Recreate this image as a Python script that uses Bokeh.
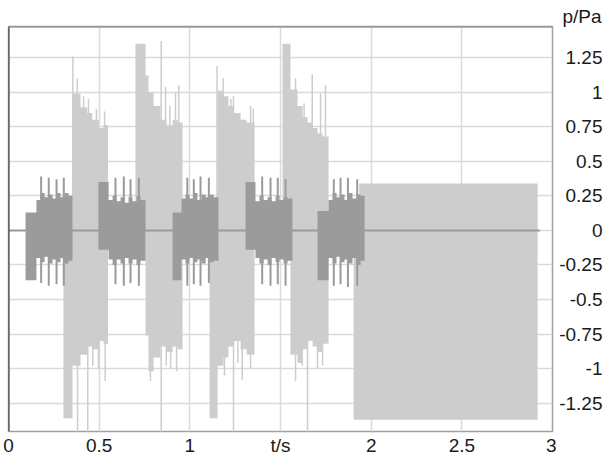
from bokeh.plotting import figure
from bokeh.models import Range1d, FixedTicker, Span, Title, ColumnDataSource
from bokeh.layouts import row
from bokeh.embed import file_html
from bokeh.resources import INLINE

# ---------------- data ----------------
x_ticks = [0, 0.5, 1, 1.5, 2, 2.5, 3]
x_tick_labels = ["0", "0.5", "1", "t/s", "2", "2.5", "3"]
y_ticks = [-1.25, -1.0, -0.75, -0.5, -0.25, 0.0, 0.25, 0.5, 0.75, 1.0, 1.25]
y_tick_labels = ["-1.25", "-1", "-0.75", "-0.5", "-0.25", "0", "0.25", "0.5", "0.75", "1", "1.25"]
y_unit = "p/Pa"

# light grey signal: step envelope (t = start of step, upper, lower)
light_t = [0.303, 0.353, 0.397, 0.434, 0.462, 0.498, 0.524, 0.549,
           0.700, 0.756, 0.772, 0.800, 0.838, 0.871, 0.905, 0.932, 0.960,
           1.109, 1.153, 1.186, 1.213, 1.241, 1.280, 1.313, 1.357,
           1.511, 1.555, 1.594, 1.622, 1.649, 1.677, 1.704, 1.732, 1.765,
           1.903, 1.934, 2.918]
light_up = [0.00, 0.99, 0.89, 0.85, 0.80, 0.74, 0.76, 0.0,
            1.35, 1.12, 1.00, 0.90, 0.80, 0.76, 0.80, 0.78, 0.0,
            0.00, 1.01, 0.97, 0.90, 0.85, 0.80, 0.78, 0.0,
            1.35, 1.02, 0.90, 0.82, 0.78, 0.74, 0.70, 0.68, 0.0,
            0.00, 0.34, 0.0]
light_lo = [-1.36, -0.98, -0.90, -0.84, -0.86, -0.80, -0.82, 0.0,
            0.00, -0.76, -1.02, -0.92, -0.84, -0.88, -0.84, -0.86, 0.0,
            -1.36, -0.98, -0.92, -0.84, -0.80, -0.86, -0.90, 0.0,
            0.00, -0.90, -0.96, -0.86, -0.80, -0.84, -0.88, -0.82, 0.0,
            -1.37, -1.37, 0.0]

# thin spikes of the light signal
light_spike_up_t = [0.355, 0.379, 0.414, 0.441, 0.485, 0.530,
                    0.842, 0.866, 0.890, 0.921, 0.939,
                    1.150, 1.184, 1.226, 1.241, 1.335, 1.350,
                    1.583, 1.630, 1.675, 1.721, 1.748]
light_spike_up_v = [1.26, 1.10, 0.97, 0.95, 0.88, 0.86,
                    1.37, 1.04, 0.90, 1.00, 1.05,
                    1.19, 1.10, 0.95, 0.97, 0.90, 0.88,
                    1.10, 0.92, 1.13, 0.99, 1.05]
light_spike_dn_t = [0.381, 0.437, 0.465, 0.496, 0.533,
                    0.783, 0.842, 0.870, 0.894, 0.927,
                    1.191, 1.241, 1.265, 1.289, 1.335,
                    1.583, 1.620, 1.649, 1.704, 1.732]
light_spike_dn_v = [-1.46, -1.46, -0.98, -1.00, -1.09,
                    -1.09, -1.46, -0.98, -1.00, -1.02,
                    -1.05, -1.46, -0.96, -1.08, -1.00,
                    -1.09, -0.98, -1.46, -1.00, -0.98]

# dark grey signal: step envelope
dark_t = [0.094, 0.154, 0.177, 0.199, 0.221, 0.243, 0.265, 0.287, 0.309, 0.331, 0.353,
          0.496, 0.552, 0.574, 0.596, 0.618, 0.640, 0.662, 0.684, 0.706, 0.728, 0.756,
          0.905, 0.954, 0.976, 0.998, 1.020, 1.042, 1.065, 1.087, 1.109, 1.131, 1.158,
          1.307, 1.362, 1.384, 1.407, 1.429, 1.451, 1.473, 1.495, 1.517, 1.539, 1.566,
          1.704, 1.765, 1.787, 1.809, 1.831, 1.853, 1.875, 1.897, 1.919, 1.942, 1.964]
dark_up = [0.13, 0.22, 0.27, 0.24, 0.26, 0.23, 0.27, 0.24, 0.27, 0.25, 0.0,
           0.35, 0.22, 0.25, 0.21, 0.24, 0.20, 0.24, 0.21, 0.25, 0.22, 0.0,
           0.13, 0.23, 0.26, 0.23, 0.27, 0.22, 0.26, 0.24, 0.26, 0.24, 0.0,
           0.35, 0.21, 0.25, 0.22, 0.24, 0.21, 0.25, 0.22, 0.24, 0.23, 0.0,
           0.14, 0.22, 0.27, 0.24, 0.26, 0.22, 0.27, 0.23, 0.26, 0.25, 0.0]
dark_lo = [-0.36, -0.20, -0.23, -0.19, -0.24, -0.21, -0.23, -0.20, -0.24, -0.22, 0.0,
           -0.14, -0.21, -0.25, -0.21, -0.24, -0.20, -0.24, -0.21, -0.25, -0.22, 0.0,
           -0.36, -0.21, -0.24, -0.20, -0.23, -0.21, -0.24, -0.20, -0.23, -0.22, 0.0,
           -0.14, -0.20, -0.24, -0.21, -0.25, -0.20, -0.23, -0.21, -0.24, -0.22, 0.0,
           -0.36, -0.20, -0.24, -0.19, -0.23, -0.21, -0.24, -0.20, -0.25, -0.22, 0.0]

# spikes of the dark signal
dark_spike_t = [0.180, 0.222, 0.265, 0.305,
                0.590, 0.636, 0.673, 0.719,
                0.986, 1.022, 1.059, 1.105,
                1.399, 1.445, 1.485, 1.528,
                1.794, 1.831, 1.872, 1.923]
dark_spike_up = [0.39, 0.38, 0.37, 0.38,
                 0.38, 0.39, 0.37, 0.38,
                 0.38, 0.37, 0.39, 0.38,
                 0.39, 0.38, 0.38, 0.37,
                 0.37, 0.38, 0.38, 0.37]
dark_spike_dn = [-0.38, -0.40, -0.39, -0.40,
                 -0.39, -0.40, -0.38, -0.40,
                 -0.40, -0.39, -0.40, -0.38,
                 -0.39, -0.40, -0.39, -0.40,
                 -0.40, -0.39, -0.41, -0.40]

baseline_t = [0.0, 2.93]
baseline_v = [0.0, 0.0]

# ---------------- styling ----------------
LIGHT = "#cdcdcd"
DARK = "#9b9b9b"
GRID = "#dadada"
FONT = "Liberation Sans"
TXT = "#1a1a1a"
FS = "19px"

y_range = Range1d(-1.455, 1.475)

p = figure(width=556, height=458, output_backend="svg", toolbar_location=None,
           x_range=Range1d(0, 3), y_range=y_range, y_axis_location=None,
           min_border_left=8, min_border_right=4, min_border_top=26, min_border_bottom=25)
p.background_fill_color = "white"
p.border_fill_color = "white"
p.outline_line_color = "#a0a0a0"
p.outline_line_width = 1.5

p.xgrid.ticker = FixedTicker(ticks=x_ticks)
p.ygrid.ticker = FixedTicker(ticks=y_ticks)
p.grid.grid_line_color = GRID
p.grid.grid_line_width = 1.5

def style_axis(ax):
    ax.axis_line_color = None
    ax.major_tick_line_color = None
    ax.minor_tick_line_color = None
    ax.major_tick_out = 0
    ax.major_tick_in = 0
    ax.minor_tick_out = 0
    ax.minor_tick_in = 0
    ax.major_label_text_font = FONT
    ax.major_label_text_font_size = FS
    ax.major_label_text_color = TXT

xa = p.xaxis[0]
xa.ticker = FixedTicker(ticks=x_ticks)
xa.major_label_overrides = {float(k): v for k, v in zip(x_ticks, x_tick_labels)}
style_axis(xa)
xa.major_label_text_line_height = 1.0
xa.major_label_standoff = 3

light_src = ColumnDataSource(dict(t=light_t, up=light_up, lo=light_lo))
dark_src = ColumnDataSource(dict(t=dark_t, up=dark_up, lo=dark_lo))

p.varea_step(x="t", y1="lo", y2="up", step_mode="after", source=light_src, fill_color=LIGHT)
p.segment(x0=light_spike_up_t, y0=[0.0] * len(light_spike_up_t), x1=light_spike_up_t, y1=light_spike_up_v,
          line_color=LIGHT, line_width=1.5)
p.segment(x0=light_spike_dn_t, y0=[0.0] * len(light_spike_dn_t), x1=light_spike_dn_t, y1=light_spike_dn_v,
          line_color=LIGHT, line_width=1.5)
p.varea_step(x="t", y1="lo", y2="up", step_mode="after", source=dark_src, fill_color=DARK)
p.segment(x0=dark_spike_t, y0=dark_spike_dn, x1=dark_spike_t, y1=dark_spike_up,
          line_color=DARK, line_width=2)
p.line(baseline_t, baseline_v, line_color=DARK, line_width=2)

# frame edges
p.add_layout(Span(location=0, dimension="height", line_color="#333333", line_width=2))
p.add_layout(Span(location=1.475, dimension="width", line_color="#888888", line_width=2))

# right-hand value axis (labels right aligned, as in the original)
q = figure(width=48, height=458, output_backend="svg", toolbar_location=None,
           x_range=Range1d(0, 1), y_range=y_range, x_axis_location=None, y_axis_location="left",
           min_border_left=46, min_border_right=0, min_border_top=26, min_border_bottom=25)
q.outline_line_color = None
q.background_fill_color = "white"
q.border_fill_color = "white"
q.grid.visible = False
ya = q.yaxis[0]
ya.ticker = FixedTicker(ticks=y_ticks)
ya.major_label_overrides = {float(k): v for k, v in zip(y_ticks, y_tick_labels)}
style_axis(ya)
ya.major_label_standoff = 0
q.add_layout(Title(text=y_unit, align="right", text_font=FONT, text_font_size=FS,
                   text_font_style="normal", text_color=TXT, standoff=0, offset=3), "above")

layout = row(p, q, spacing=0)
open("out.html", "w").write(file_html(layout, INLINE))
